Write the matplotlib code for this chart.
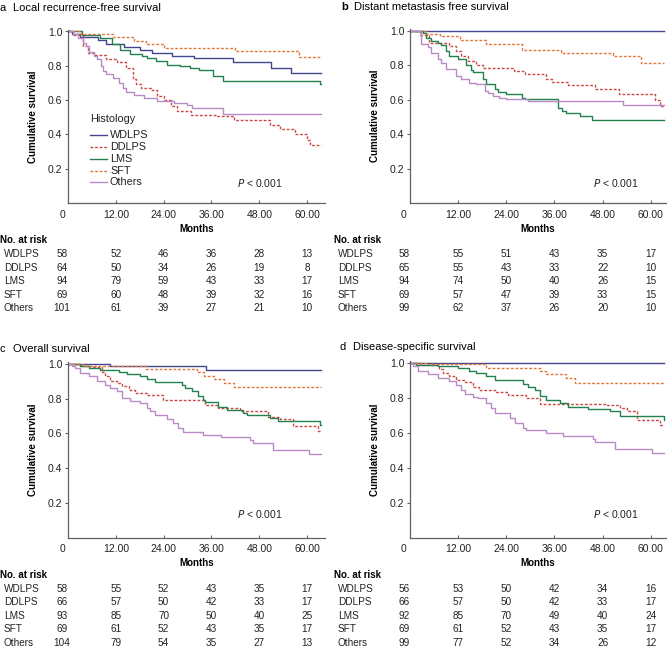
import matplotlib.pyplot as plt
from matplotlib import transforms
from matplotlib.lines import Line2D

plt.rcParams['font.family'] = ['Liberation Sans', 'DejaVu Sans']

groups = ["WDLPS", "DDLPS", "LMS", "SFT", "Others"]
month_ticks = [12, 24, 36, 48, 60]
risk_months = [-1.5, 12, 24, 36, 48, 60]

# Kaplan-Meier step curves: (event months, survival after event)
lrfs = {
    "WDLPS": ([0, 1, 3, 7.5, 9.5, 14, 18, 21, 26, 31.5, 41.5, 51, 56],
              [1.0, 0.985, 0.97, 0.95, 0.93, 0.91, 0.89, 0.875, 0.86, 0.845, 0.82, 0.79, 0.76]),
    "DDLPS": ([0, 1.2, 3.7, 4.9, 6.6, 9.5, 12.4, 14.5, 16.2, 17, 18.3, 20.8, 22.4, 24.1, 25.8, 27.4,
               30.8, 37.4, 41.6, 50.8, 53.3, 57, 59.9, 60.8],
              [1.0, 0.98, 0.915, 0.875, 0.865, 0.84, 0.825, 0.79, 0.725, 0.695, 0.67, 0.66, 0.625, 0.6,
               0.565, 0.535, 0.515, 0.505, 0.485, 0.455, 0.43, 0.405, 0.37, 0.34]),
    "LMS": ([0, 3.5, 8, 11, 13, 15.6, 18.5, 19.8, 22, 24.8, 28, 30.6, 33, 36.4, 39, 63.2],
            [1.0, 0.98, 0.96, 0.925, 0.895, 0.87, 0.855, 0.845, 0.827, 0.807, 0.797, 0.788, 0.778,
             0.74, 0.713, 0.695]),
    "SFT": ([0, 3.2, 11.2, 16.6, 19.5, 24, 42, 58],
            [1.0, 0.985, 0.97, 0.945, 0.925, 0.905, 0.885, 0.85]),
    "Others": ([0, 1.2, 2.4, 3.7, 4.5, 5.3, 6.6, 7.4, 8.3, 8.7, 9.5, 11.2, 12.8, 13.7, 14.5, 16.5,
                19.1, 22.4, 26.6, 29.9, 31.2, 39],
               [1.0, 0.985, 0.965, 0.935, 0.915, 0.88, 0.86, 0.84, 0.8, 0.77, 0.75, 0.73, 0.7, 0.67,
                0.645, 0.63, 0.61, 0.595, 0.585, 0.57, 0.555, 0.52]),
}

dmfs = {
    "WDLPS": ([0], [1.0]),
    "DDLPS": ([0, 2.5, 4.8, 9.8, 11.5, 12.8, 14.4, 16.5, 18.2, 26, 28.6, 34, 35.3, 39.4, 46, 52, 61, 62.3],
              [1.0, 0.975, 0.93, 0.913, 0.885, 0.855, 0.826, 0.8, 0.785, 0.768, 0.75, 0.72, 0.705,
               0.685, 0.66, 0.635, 0.6, 0.565]),
    "LMS": ([0, 3.2, 4, 5.3, 6.9, 7.8, 9, 9.8, 11.9, 14, 15.3, 15.7, 18.2, 19, 21.1, 21.9, 24, 27.8,
             28.6, 36.9, 37.8, 39, 42.3, 45.3],
            [1.0, 0.99, 0.96, 0.94, 0.928, 0.917, 0.884, 0.855, 0.84, 0.8, 0.775, 0.76, 0.72, 0.69,
             0.66, 0.645, 0.632, 0.613, 0.603, 0.555, 0.536, 0.522, 0.507, 0.485]),
    "SFT": ([0, 4.1, 7.5, 12.4, 19, 27.8, 37.7, 50.5, 57.6],
            [1.0, 0.98, 0.97, 0.945, 0.925, 0.89, 0.87, 0.855, 0.815]),
    "Others": ([0, 2.7, 4.4, 5.3, 6.9, 7.8, 9, 11.5, 12.8, 14.8, 16.5, 18.6, 19.4, 20.7, 22.3, 24,
                29.4, 53.2],
               [1.0, 0.925, 0.905, 0.875, 0.838, 0.816, 0.777, 0.74, 0.723, 0.70, 0.69, 0.652, 0.642,
                0.623, 0.613, 0.607, 0.595, 0.567]),
}

os_curves = {
    "WDLPS": ([0, 10.6, 34.75], [1.0, 0.988, 0.962]),
    "DDLPS": ([0, 3.2, 6, 8.5, 9.3, 10.6, 12.3, 13.5, 15.2, 16.8, 19.8, 23.9, 34.3, 37.7, 43.1, 50.2,
               53.1, 56.4, 62.7],
              [1.0, 0.99, 0.98, 0.95, 0.93, 0.9, 0.89, 0.87, 0.852, 0.833, 0.82, 0.79, 0.765, 0.746,
               0.727, 0.695, 0.68, 0.64, 0.615]),
    "LMS": ([0, 3.1, 5.2, 8.1, 12.7, 14.8, 18.1, 19.8, 21.8, 28.5, 29.3, 31, 32.7, 33.9, 34.3, 37.7,
             39.8, 43.9, 44.8, 50.6, 52.7, 63.2],
            [1.0, 0.987, 0.977, 0.962, 0.954, 0.944, 0.929, 0.915, 0.896, 0.88, 0.862, 0.842, 0.813,
             0.79, 0.779, 0.75, 0.733, 0.717, 0.704, 0.688, 0.669, 0.65]),
    "SFT": ([0, 3.7, 10.8, 19.5, 32.4, 34.1, 36.6, 39.1, 41.6],
            [1.0, 0.99, 0.985, 0.97, 0.955, 0.93, 0.91, 0.89, 0.865]),
    "Others": ([0, 1, 1.8, 3.1, 5.2, 7.3, 9.3, 10.6, 12.3, 13.5, 15.6, 18.1, 19.8, 20.6, 21.8, 24.8,
                26.4, 27.7, 28.9, 33.9, 38.5, 45.6, 46.4, 51.4, 60.6],
               [1.0, 0.99, 0.977, 0.948, 0.929, 0.9, 0.88, 0.862, 0.842, 0.804, 0.788, 0.775, 0.746,
                0.73, 0.704, 0.685, 0.66, 0.631, 0.608, 0.592, 0.577, 0.563, 0.544, 0.506, 0.483]),
}

dss = {
    "WDLPS": ([0], [1.0]),
    "DDLPS": ([0, 2.5, 7.3, 8.2, 9.8, 11.5, 13.6, 15.7, 17.3, 21.5, 24.4, 29, 32.3, 49, 52.3, 54,
               56.5, 62.3],
              [1.0, 0.99, 0.965, 0.945, 0.925, 0.905, 0.89, 0.865, 0.846, 0.833, 0.815, 0.8, 0.765,
               0.76, 0.74, 0.725, 0.675, 0.645]),
    "LMS": ([0, 1.5, 6.9, 11.9, 14.8, 16.5, 19, 21.1, 28.2, 29.4, 31.1, 32.3, 34, 37.3, 39.4, 44.4,
             49.8, 52.3, 63.3],
            [1.0, 0.99, 0.98, 0.971, 0.956, 0.942, 0.923, 0.9, 0.879, 0.86, 0.846, 0.813, 0.788,
             0.769, 0.75, 0.737, 0.725, 0.698, 0.675]),
    "SFT": ([0, 4, 19, 32.3, 34, 39, 41.1],
            [1.0, 0.995, 0.97, 0.955, 0.935, 0.915, 0.885]),
    "Others": ([0, 0.7, 1.9, 4.4, 6.9, 9.8, 11.5, 12.8, 13.6, 15.7, 16.9, 19, 20.3, 21.1, 24.8, 26.1,
                28.2, 29, 34, 38.2, 45.7, 46.1, 51.1, 60.3],
               [1.0, 0.98, 0.952, 0.937, 0.913, 0.894, 0.875, 0.846, 0.821, 0.808, 0.798, 0.769,
                0.744, 0.712, 0.683, 0.654, 0.625, 0.615, 0.596, 0.583, 0.567, 0.548, 0.506, 0.485]),
}

# number at risk at 0, 12, 24, 36, 48, 60 months
lrfs_risk = {"WDLPS": [58, 52, 46, 36, 28, 13], "DDLPS": [64, 50, 34, 26, 19, 8],
             "LMS": [94, 79, 59, 43, 33, 17], "SFT": [69, 60, 48, 39, 32, 16],
             "Others": [101, 61, 39, 27, 21, 10]}
dmfs_risk = {"WDLPS": [58, 55, 51, 43, 35, 17], "DDLPS": [65, 55, 43, 33, 22, 10],
             "LMS": [94, 74, 50, 40, 26, 15], "SFT": [69, 57, 47, 39, 33, 15],
             "Others": [99, 62, 37, 26, 20, 10]}
os_risk = {"WDLPS": [58, 55, 52, 43, 35, 17], "DDLPS": [66, 57, 50, 42, 33, 17],
           "LMS": [93, 85, 70, 50, 40, 25], "SFT": [69, 61, 52, 43, 35, 17],
           "Others": [104, 79, 54, 35, 27, 13]}
dss_risk = {"WDLPS": [56, 53, 50, 42, 34, 16], "DDLPS": [66, 57, 50, 42, 33, 17],
            "LMS": [92, 85, 70, 49, 40, 24], "SFT": [69, 61, 52, 43, 35, 17],
            "Others": [99, 77, 52, 34, 26, 12]}

colors = {"WDLPS": "#43458f", "DDLPS": "#c94a45", "LMS": "#23804f",
          "SFT": "#e2763a", "Others": "#b98bc6"}
dotted = {"DDLPS", "SFT"}
axis_grey = "#606060"
text_col = "#222222"

W, H = 667, 649
fig = plt.figure(figsize=(W / 100, H / 100), dpi=100)


def style_of(g):
    return dict(color=colors[g], lw=1.0, ls=(0, (2, 1.3)) if g in dotted else '-')


def panel(left, bottom, width, one_at, xmax, curves, risk, p_y, end=63.4, legend=False):
    height = (bottom - one_at) * 1.01
    ax = fig.add_axes([left / W, 1 - bottom / H, width / W, height / H])
    for g in groups:
        t, s = curves[g]
        ax.step(list(t) + [end], list(s) + [s[-1]], where='post', **style_of(g))
    ax.set_xlim(0, xmax)
    ax.set_ylim(0, 1.01)
    for side in ['top', 'right']:
        ax.spines[side].set_visible(False)
    for side in ['left', 'bottom']:
        ax.spines[side].set_color(axis_grey)
        ax.spines[side].set_linewidth(0.9)
    ax.set_yticks([0.2, 0.4, 0.6, 0.8, 1.0])
    ax.set_yticklabels(['0.2', '0.4', '0.6', '0.8', '1.0'])
    ax.set_xticks(month_ticks)
    ax.set_xticklabels(['%.2f' % m for m in month_ticks])
    ax.tick_params(axis='y', direction='out', length=2.5, width=0.8, color=axis_grey, pad=1.5,
                   labelsize=7.5, labelcolor=text_col)
    ax.tick_params(axis='x', direction='in', length=2.5, width=0.8, color=axis_grey, pad=4.8,
                   labelsize=7.5, labelcolor=text_col)

    px = 1.0 / height
    mixed = transforms.blended_transform_factory(ax.transData, ax.transAxes)
    ax.text(-1.5, -6.5 * px, '0', transform=mixed, ha='center', va='top', fontsize=7.5,
            color=text_col)
    ax.set_ylabel('Cumulative survival', fontsize=7, fontweight='bold')
    ax.yaxis.set_label_coords(-30.5 / width, 0.5)
    ax.set_xlabel('Months', fontsize=7, fontweight='bold')
    ax.xaxis.set_label_coords(0.5, -26 * px)
    ax.xaxis.label.set_va('center')

    ax.text(45.5 if xmax < 64 else 42.5, p_y, r'$\it{P}$ < 0.001', fontsize=7.5, va='center',
            ha='left', color=text_col)

    # risk table
    name_x = -(left - (4 if left < 300 else 338)) / width
    ax.text(name_x - 4 / width, -37 * px, 'No. at risk', transform=ax.transAxes, fontsize=7,
            fontweight='bold', va='center', ha='left')
    for i, g in enumerate(groups):
        y = -(51 + 13.6 * i) * px
        ax.text(name_x, y, g, transform=ax.transAxes, fontsize=7.2, va='center', ha='left',
                color=text_col)
        for m, n in zip(risk_months, risk[g]):
            ax.text(m, y, str(n), transform=mixed, fontsize=7.2, va='center', ha='center',
                    color=text_col)

    if legend:
        # hand-placed legend, positions in pixels from the axes' top-left corner
        def ax_xy(xp, yp):
            return (xp - left) / width, (bottom - yp) / height
        tx, ty = ax_xy(90, 119)
        ax.text(tx, ty, 'Histology', transform=ax.transAxes, fontsize=7.8, va='center',
                ha='left', color=text_col)
        for g, yp in zip(groups, [135, 146.5, 158.5, 170.5, 182]):
            x0, y0 = ax_xy(90, yp)
            x1, _ = ax_xy(107, yp)
            ax.add_line(Line2D([x0, x1], [y0, y0], transform=ax.transAxes, **style_of(g)))
            xt, _ = ax_xy(110, yp)
            ax.text(xt, y0, g, transform=ax.transAxes, fontsize=7.8, va='center', ha='left',
                    color=text_col)
    return ax


panel(68, 203, 257, 31.5, 64.5, lrfs, lrfs_risk, 0.117, legend=True)
panel(410, 203, 256, 31, 63.8, dmfs, dmfs_risk, 0.117)
panel(68, 537.5, 257, 363.8, 64.5, os_curves, os_risk, 0.135)
panel(410, 537.5, 256, 363, 63.8, dss, dss_risk, 0.135)

# panel titles
titles = [(0, 8, 'a', False, 'Local recurrence-free survival'),
          (341, 7, 'b', True, 'Distant metastasis free survival'),
          (0, 349, 'c', False, 'Overall survival'),
          (340, 347, 'd', False, 'Disease-specific survival')]
for x, y, letter, bold, text in titles:
    fig.text(x / W, 1 - y / H, letter, fontsize=8, fontweight='bold' if bold else 'normal',
             va='center', ha='left')
    fig.text((x + 13) / W, 1 - y / H, text, fontsize=8, va='center', ha='left')

fig.savefig('out.png', dpi=100)
